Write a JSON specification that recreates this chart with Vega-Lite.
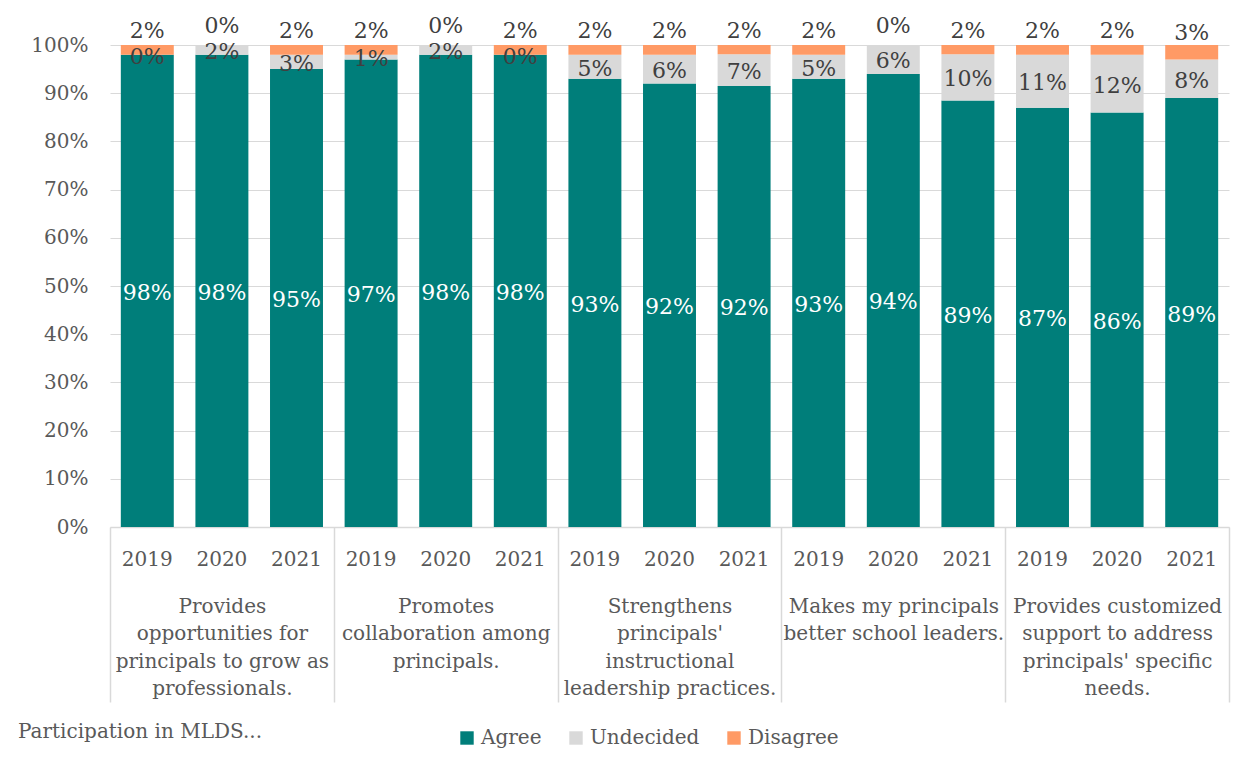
{
  "$schema": "https://vega.github.io/schema/vega-lite/v6.json",
  "width": 1119,
  "height": 482,
  "autosize": {"type": "none"},
  "padding": {"left": 110, "top": 45, "right": 25, "bottom": 245},
  "background": "white",
  "config": {
    "font": "DejaVu Serif",
    "view": {"stroke": null},
    "axisY": {"labelFontSize": 20, "labelColor": "#595959", "labelFont": "DejaVu Serif", "gridColor": "#D9D9D9", "gridWidth": 1, "domain": false, "ticks": false, "labelPadding": 22}
  },
  "title": {"text": "Participation in MLDS...", "orient": "bottom", "anchor": "start", "frame": "group", "dx": -92, "offset": -26, "fontSize": 20, "fontWeight": "normal", "color": "#595959", "font": "DejaVu Serif"},
  "data": {"values": [
    {"group": "Provides opportunities for principals to grow as professionals.", "year": "2019", "response": "Agree", "value": 0.98},
    {"group": "Provides opportunities for principals to grow as professionals.", "year": "2019", "response": "Undecided", "value": 0},
    {"group": "Provides opportunities for principals to grow as professionals.", "year": "2019", "response": "Disagree", "value": 0.02},
    {"group": "Provides opportunities for principals to grow as professionals.", "year": "2020", "response": "Agree", "value": 0.98},
    {"group": "Provides opportunities for principals to grow as professionals.", "year": "2020", "response": "Undecided", "value": 0.02},
    {"group": "Provides opportunities for principals to grow as professionals.", "year": "2020", "response": "Disagree", "value": 0},
    {"group": "Provides opportunities for principals to grow as professionals.", "year": "2021", "response": "Agree", "value": 0.95},
    {"group": "Provides opportunities for principals to grow as professionals.", "year": "2021", "response": "Undecided", "value": 0.03},
    {"group": "Provides opportunities for principals to grow as professionals.", "year": "2021", "response": "Disagree", "value": 0.02},
    {"group": "Promotes collaboration among principals.", "year": "2019", "response": "Agree", "value": 0.97},
    {"group": "Promotes collaboration among principals.", "year": "2019", "response": "Undecided", "value": 0.01},
    {"group": "Promotes collaboration among principals.", "year": "2019", "response": "Disagree", "value": 0.02},
    {"group": "Promotes collaboration among principals.", "year": "2020", "response": "Agree", "value": 0.98},
    {"group": "Promotes collaboration among principals.", "year": "2020", "response": "Undecided", "value": 0.02},
    {"group": "Promotes collaboration among principals.", "year": "2020", "response": "Disagree", "value": 0},
    {"group": "Promotes collaboration among principals.", "year": "2021", "response": "Agree", "value": 0.98},
    {"group": "Promotes collaboration among principals.", "year": "2021", "response": "Undecided", "value": 0},
    {"group": "Promotes collaboration among principals.", "year": "2021", "response": "Disagree", "value": 0.02},
    {"group": "Strengthens principals' instructional leadership practices.", "year": "2019", "response": "Agree", "value": 0.93},
    {"group": "Strengthens principals' instructional leadership practices.", "year": "2019", "response": "Undecided", "value": 0.05},
    {"group": "Strengthens principals' instructional leadership practices.", "year": "2019", "response": "Disagree", "value": 0.02},
    {"group": "Strengthens principals' instructional leadership practices.", "year": "2020", "response": "Agree", "value": 0.92},
    {"group": "Strengthens principals' instructional leadership practices.", "year": "2020", "response": "Undecided", "value": 0.06},
    {"group": "Strengthens principals' instructional leadership practices.", "year": "2020", "response": "Disagree", "value": 0.02},
    {"group": "Strengthens principals' instructional leadership practices.", "year": "2021", "response": "Agree", "value": 0.915},
    {"group": "Strengthens principals' instructional leadership practices.", "year": "2021", "response": "Undecided", "value": 0.066},
    {"group": "Strengthens principals' instructional leadership practices.", "year": "2021", "response": "Disagree", "value": 0.019},
    {"group": "Makes my principals better school leaders.", "year": "2019", "response": "Agree", "value": 0.93},
    {"group": "Makes my principals better school leaders.", "year": "2019", "response": "Undecided", "value": 0.05},
    {"group": "Makes my principals better school leaders.", "year": "2019", "response": "Disagree", "value": 0.02},
    {"group": "Makes my principals better school leaders.", "year": "2020", "response": "Agree", "value": 0.94},
    {"group": "Makes my principals better school leaders.", "year": "2020", "response": "Undecided", "value": 0.06},
    {"group": "Makes my principals better school leaders.", "year": "2020", "response": "Disagree", "value": 0},
    {"group": "Makes my principals better school leaders.", "year": "2021", "response": "Agree", "value": 0.885},
    {"group": "Makes my principals better school leaders.", "year": "2021", "response": "Undecided", "value": 0.096},
    {"group": "Makes my principals better school leaders.", "year": "2021", "response": "Disagree", "value": 0.019},
    {"group": "Provides customized support to address principals' specific needs.", "year": "2019", "response": "Agree", "value": 0.87},
    {"group": "Provides customized support to address principals' specific needs.", "year": "2019", "response": "Undecided", "value": 0.11},
    {"group": "Provides customized support to address principals' specific needs.", "year": "2019", "response": "Disagree", "value": 0.02},
    {"group": "Provides customized support to address principals' specific needs.", "year": "2020", "response": "Agree", "value": 0.86},
    {"group": "Provides customized support to address principals' specific needs.", "year": "2020", "response": "Undecided", "value": 0.12},
    {"group": "Provides customized support to address principals' specific needs.", "year": "2020", "response": "Disagree", "value": 0.02},
    {"group": "Provides customized support to address principals' specific needs.", "year": "2021", "response": "Agree", "value": 0.89},
    {"group": "Provides customized support to address principals' specific needs.", "year": "2021", "response": "Undecided", "value": 0.08},
    {"group": "Provides customized support to address principals' specific needs.", "year": "2021", "response": "Disagree", "value": 0.03}
  ]},
  "transform": [
    {"calculate": "datum.group + '|' + datum.year", "as": "key"},
    {"calculate": "indexof(['Agree','Undecided','Disagree'], datum.response)", "as": "ord"},
    {"stack": "value", "groupby": ["key"], "sort": [{"field": "ord", "order": "ascending"}], "as": ["v0", "v1"]},
    {"calculate": "(datum.v0 + datum.v1) / 2", "as": "mid"}
  ],
  "layer": [
    {
      "encoding": {
        "x": {"field": "key", "type": "nominal", "sort": null,
          "scale": {"paddingInner": 0.29, "paddingOuter": 0.145},
          "axis": {"orient": "bottom", "title": null, "labelExpr": "slice(datum.value, -4)", "ticks": false, "domain": true, "domainColor": "#D9D9D9", "domainWidth": 1.5, "labelPadding": 22, "labelFontSize": 20, "labelFont": "DejaVu Serif", "labelColor": "#595959", "labelOverlap": false, "labelAngle": 0, "grid": false}}
      },
      "layer": [
        {
          "mark": {"type": "bar"},
          "encoding": {
            "y": {"field": "v1", "type": "quantitative", "title": null, "scale": {"domain": [0, 1]}, "axis": {"format": ".0%", "values": [0, 0.1, 0.2, 0.3, 0.4, 0.5, 0.6, 0.7, 0.8, 0.9, 1]}},
            "y2": {"field": "v0"},
            "color": {"field": "response", "type": "nominal",
              "scale": {"domain": ["Agree", "Undecided", "Disagree"], "range": ["#007E7A", "#D9D9D9", "#FF9A65"]},
              "legend": {"orient": "none", "legendX": 347, "legendY": 683, "direction": "horizontal", "title": null, "symbolType": "square", "symbolSize": 180, "symbolStrokeWidth": 0, "labelFontSize": 20, "labelColor": "#595959", "labelFont": "DejaVu Serif", "columnPadding": 24, "labelOffset": 4, "padding": 0}}
          }
        },
        {
          "transform": [{"filter": "datum.response != 'Disagree'"}],
          "mark": {"type": "text", "fontSize": 22, "baseline": "middle", "dy": 2, "font": "DejaVu Serif"},
          "encoding": {
            "y": {"field": "mid", "type": "quantitative", "title": null},
            "text": {"field": "value", "type": "quantitative", "format": ".0%"},
            "color": {"condition": {"test": "datum.response == 'Agree'", "value": "white"}, "value": "#404040"}
          }
        },
        {
          "transform": [{"filter": "datum.response == 'Disagree'"}],
          "mark": {"type": "text", "fontSize": 22, "baseline": "middle", "dy": -19, "font": "DejaVu Serif", "color": "#404040"},
          "encoding": {
            "y": {"field": "mid", "type": "quantitative", "title": null},
            "text": {"field": "value", "type": "quantitative", "format": ".0%"}
          }
        }
      ]
    },
    {
      "mark": {"type": "bar", "opacity": 0},
      "encoding": {
        "x": {"field": "group", "type": "nominal", "sort": null,
          "scale": {"type": "band", "paddingInner": 0, "paddingOuter": 0},
          "axis": {"orient": "bottom", "title": null, "domain": false, "ticks": true, "tickBand": "extent", "tickSize": 175, "tickColor": "#D9D9D9", "tickWidth": 1.5, "labelPadding": -106, "labelLineHeight": 27.5, "labelFontSize": 20, "labelFont": "DejaVu Serif", "labelColor": "#595959", "labelLimit": 400, "labelOverlap": false, "labelAngle": 0, "grid": false,
            "labelExpr": "datum.value == null ? '' : datum.value == 'Provides opportunities for principals to grow as professionals.' ? ['Provides', 'opportunities for', 'principals to grow as', 'professionals.'] : datum.value == 'Promotes collaboration among principals.' ? ['Promotes', 'collaboration among', 'principals.'] : datum.value == \"Strengthens principals' instructional leadership practices.\" ? ['Strengthens', \"principals'\", 'instructional', 'leadership practices.'] : datum.value == 'Makes my principals better school leaders.' ? ['Makes my principals', 'better school leaders.'] : datum.value == \"Provides customized support to address principals' specific needs.\" ? ['Provides customized', 'support to address', \"principals' specific\", 'needs.'] : ''"}}
      }
    }
  ],
  "resolve": {"scale": {"x": "independent"}, "axis": {"x": "independent"}}
}
